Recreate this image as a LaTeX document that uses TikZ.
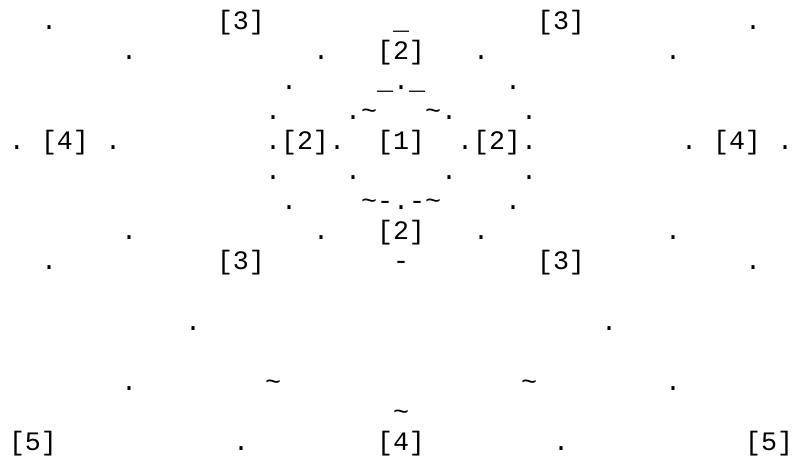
\documentclass[tikz,border=0pt]{standalone}
\usepackage{fontspec}
\newfontfamily\gridfont{Liberation Mono}
\newcommand{\tildech}{\symbol{"7E}}
\newcommand{\underch}{\symbol{"5F}}
\tikzset{
  glyph/.style={inner sep=0pt, outer sep=0pt, anchor=base, font=\gridfont\fontsize{13.33}{15}\selectfont},
  rank/.style={glyph}
}

\begin{document}
\begin{tikzpicture}[x=8pt, y=-15pt]
  \useasboundingbox (-1.0625,-1) rectangle (48.5,14.5);

  % ranked vertices
  \node[rank] (n1) at (24,4) {[1]};
  \node[rank] (n2n) at (24,1) {[2]};
  \node[rank] (n2w) at (18,4) {[2]};
  \node[rank] (n2e) at (30,4) {[2]};
  \node[rank] (n2s) at (24,7) {[2]};
  \node[rank] (n3nw) at (14,0) {[3]};
  \node[rank] (n3ne) at (34,0) {[3]};
  \node[rank] (n3sw) at (14,8) {[3]};
  \node[rank] (n3se) at (34,8) {[3]};
  \node[rank] (n4w) at (3,4) {[4]};
  \node[rank] (n4e) at (45,4) {[4]};
  \node[rank] (n4s) at (24,14) {[4]};
  \node[rank] (n5w) at (1,14) {[5]};
  \node[rank] (n5e) at (47,14) {[5]};

  % dotted traces
  \foreach \c/\r [count=\i] in {2/0, 46/0, 7/1, 19/1, 29/1, 41/1, 17/2, 24/2, 31/2,
      16/3, 21/3, 27/3, 32/3, 0/4, 6/4, 16/4, 20/4, 28/4, 32/4, 42/4, 48/4,
      16/5, 21/5, 27/5, 32/5, 17/6, 24/6, 31/6, 7/7, 19/7, 29/7, 41/7,
      2/8, 46/8, 11/10, 37/10, 7/12, 41/12, 14/14, 34/14}
    \node[glyph] (dot\i) at (\c,\r) {.};

  % wavy bits
  \foreach \c/\r [count=\i] in {22/3, 26/3, 22/6, 26/6, 16/12, 32/12, 24/13}
    \node[glyph] (wave\i) at (\c,\r) {\tildech};
  \foreach \c/\r [count=\i] in {24/0, 23/2, 25/2}
    \node[glyph] (bar\i) at (\c,\r) {\underch};
  \foreach \c/\r [count=\i] in {23/6, 25/6, 24/8}
    \node[glyph] (dash\i) at (\c,\r) {-};
\end{tikzpicture}
\end{document}
